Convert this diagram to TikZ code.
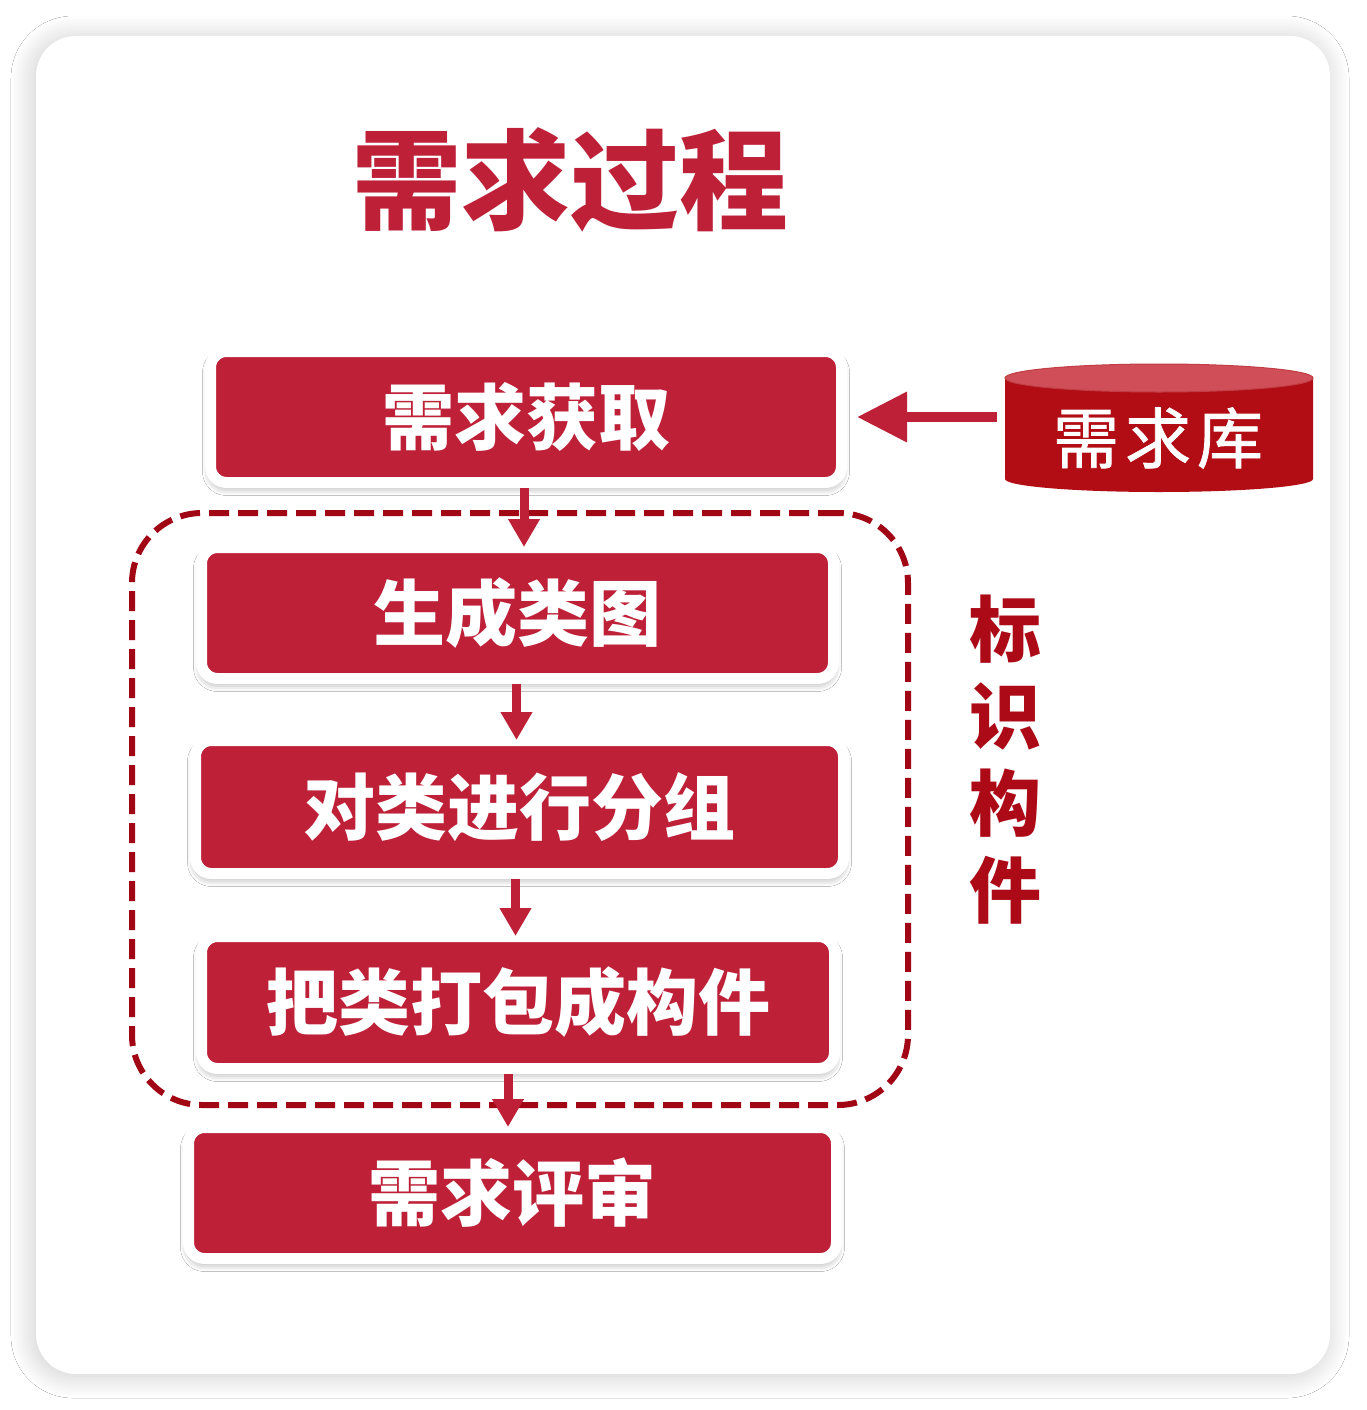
\documentclass[tikz,border=0pt]{standalone}
\usepackage{fontspec}
\newfontfamily\cjk{Noto Sans CJK SC}
\newfontfamily\cjkmed{Noto Sans CJK SC}[FakeBold=1.2]
\usetikzlibrary{arrows.meta,shadows.blur,calc}
\definecolor{boxred}{RGB}{190,32,56}
\definecolor{dashred}{RGB}{160,6,20}
\definecolor{sidered}{RGB}{172,10,22}
\definecolor{dbbody}{RGB}{178,12,20}
\definecolor{dbtop}{RGB}{208,78,88}
\tikzset{
  card/.style={fill=white, rounded corners=40pt, inner sep=0pt,
    blur shadow={shadow xshift=-3pt, shadow yshift=-2pt, shadow blur radius=22pt, shadow opacity=20, shadow blur steps=16}},
  stepbox/.style={fill=boxred, draw=white, line width=11pt, rounded corners=16pt, text=white,
    font=\cjk\bfseries\fontsize{72}{80}\selectfont, inner sep=0pt,
    blur shadow={shadow xshift=0pt, shadow yshift=-5pt, shadow blur radius=8pt, shadow opacity=40}},
  group/.style={draw=dashred, line width=6pt, dash pattern=on 20pt off 9pt, rounded corners=70pt, inner sep=0pt},
  flow/.style={draw=boxred, line width=9pt, -{Triangle[length=28pt,width=30pt]}, shorten >=-5pt},
  feed/.style={draw=boxred, line width=10pt, -{Triangle[length=50pt,width=48pt]}, shorten <=8pt, shorten >=10pt},
}
\begin{document}
\begin{tikzpicture}[x=1pt,y=-1pt]
\useasboundingbox (0,0) rectangle (1366,1410);
\fill[white] (0,0) rectangle (1366,1410);
\node[card, minimum width=1294pt, minimum height=1338pt] (card) at (683,705) {};

\node[text=boxred, font=\cjk\bfseries\fontsize{109}{120}\selectfont, inner sep=0pt] (title) at (570,180) {需求过程};

\node[group, minimum width=776pt, minimum height=592pt] (grp) at (520,809) {};

\node[stepbox, minimum width=631pt, minimum height=131pt] (b1) at (526,417) {需求获取};
\node[stepbox, minimum width=632pt, minimum height=131pt] (b2) at (517.5,613) {生成类图};
\node[stepbox, minimum width=648pt, minimum height=133pt] (b3) at (519.5,807) {对类进行分组};
\node[stepbox, minimum width=633pt, minimum height=132pt] (b4) at (518,1002.5) {把类打包成构件};
\node[stepbox, minimum width=648pt, minimum height=131pt] (b5) at (512.5,1193) {需求评审};

\coordinate (s1) at ($(b1.south)+(-2,0)$);
\coordinate (s2) at ($(b2.south)+(-1,0)$);
\coordinate (s3) at ($(b3.south)+(-4,0)$);
\coordinate (s4) at ($(b4.south)+(-10,0)$);
\draw[flow] (s1) -- (s1 |- b2.north);
\draw[flow] (s2) -- (s2 |- b3.north);
\draw[flow] (s3) -- (s3 |- b4.north);
\draw[flow] (s4) -- (s4 |- b5.north);

% database cylinder
\node[minimum width=308pt, minimum height=104pt, inner sep=0pt] (db) at (1159,430) {};
\fill[dbbody] (1005,378) -- (1005,479) arc[start angle=180, end angle=0, x radius=154, y radius=13] -- (1313,378) -- cycle;
\fill[dbtop, draw=dbbody!80!white, line width=1pt] (1159,378) ellipse [x radius=154, y radius=14];
\node[text=white, font=\cjkmed\fontsize{66}{70}\selectfont, inner sep=0pt] (dbt) at (1158,438) {需\hspace{6pt}求\hspace{6pt}库};

\draw[feed] (db.west |- b1.east) -- (b1.east);

\node[text=sidered, font=\cjk\bfseries\fontsize{72}{87}\selectfont, align=center, inner sep=0pt] (side) at (1005,760) {标\\识\\构\\件};
\end{tikzpicture}
\end{document}
